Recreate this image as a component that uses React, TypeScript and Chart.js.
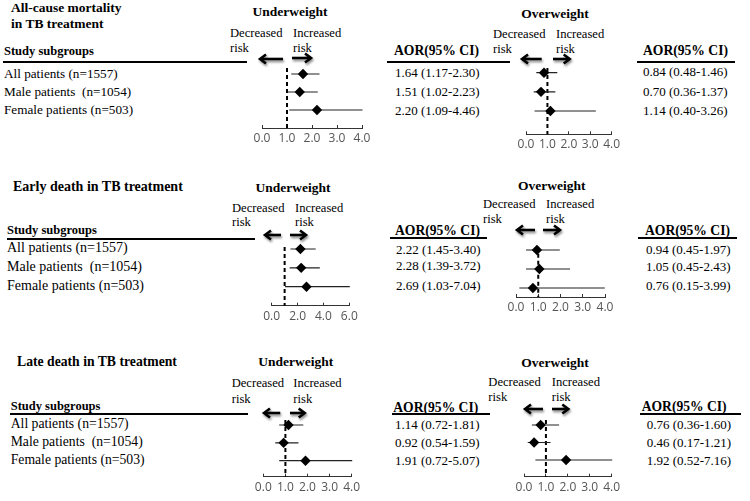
import React, { useEffect, useRef } from "react";
import { Chart, registerables } from "chart.js";

Chart.register(...registerables);

const SERIF = '"Liberation Serif", "Times New Roman", Times, serif';
const SANS = '"Open Sans", "DejaVu Sans", sans-serif';

// ---------------- data ----------------
const subgroups = ["All patients (n=1557)", "Male patients  (n=1054)", "Female patients (n=503)"];
const sectionTitles = [["All-cause mortality", "in TB treatment"], ["Early death in TB treatment"], ["Late death in TB treatment"]];
const groupTitles = ["Underweight", "Overweight"];
const riskWords = ["Decreased", "Increased", "risk"];
const columnHeader = "AOR(95% CI)";
const subgroupHeader = "Study subgroups";
const referenceAor = 1;

const ticksTo4 = [0, 1, 2, 3, 4];
const ticksTo6 = [0, 2, 4, 6];

const allCauseUnderAor = [1.64, 1.51, 2.2];
const allCauseUnderLow = [1.17, 1.02, 1.09];
const allCauseUnderHigh = [2.3, 2.23, 4.46];
const allCauseOverAor = [0.84, 0.7, 1.14];
const allCauseOverLow = [0.48, 0.36, 0.4];
const allCauseOverHigh = [1.46, 1.37, 3.26];

const earlyUnderAor = [2.22, 2.28, 2.69];
const earlyUnderLow = [1.45, 1.39, 1.03];
const earlyUnderHigh = [3.4, 3.72, 7.04];
const earlyOverAor = [0.94, 1.05, 0.76];
const earlyOverLow = [0.45, 0.45, 0.15];
const earlyOverHigh = [1.97, 2.43, 3.99];

const lateUnderAor = [1.14, 0.92, 1.91];
const lateUnderLow = [0.72, 0.54, 0.72];
const lateUnderHigh = [1.81, 1.59, 5.07];
const lateOverAor = [0.76, 0.46, 1.92];
const lateOverLow = [0.36, 0.17, 0.52];
const lateOverHigh = [1.6, 1.21, 7.16];

// ---------------- layout ----------------
type Geo = { x0: number; x1: number; axisY: number; dashTop: number; rowFirst: number; rowLast: number };
type Panel = {
  aor: number[]; low: number[]; high: number[]; ticks: number[]; geo: Geo;
  titleX: number; titleY: number; decX: number; incX: number; riskY: number[];
  arrowL: number[]; arrowR: number[];
  col: { x: number; headerX: number; headerY: number; line: number[]; rowY: number[] };
};
type Section = {
  titleX: number; titleY: number[]; titleSize: number;
  headerX: number; headerY: number; headerLine: number[];
  rowX: number; rowY: number[]; rowSize: number;
  panels: Panel[];
};

const SECTIONS: Section[] = [
  {
    titleX: 11, titleY: [9, 25], titleSize: 13.5,
    headerX: 4, headerY: 52, headerLine: [3, 247, 62],
    rowX: 4, rowY: [74, 92, 110], rowSize: 13.2,
    panels: [
      {
        aor: allCauseUnderAor, low: allCauseUnderLow, high: allCauseUnderHigh, ticks: ticksTo4,
        geo: { x0: 262, x1: 362, axisY: 128, dashTop: 68, rowFirst: 74, rowLast: 110 },
        titleX: 290, titleY: 13, decX: 230, incX: 293, riskY: [34, 49],
        arrowL: [258, 283, 59], arrowR: [292, 313, 58],
        col: { x: 395, headerX: 394, headerY: 52, line: [387, 510, 62], rowY: [73, 92, 111] },
      },
      {
        aor: allCauseOverAor, low: allCauseOverLow, high: allCauseOverHigh, ticks: ticksTo4,
        geo: { x0: 526, x1: 611.7, axisY: 134.3, dashTop: 68, rowFirst: 72.7, rowLast: 111 },
        titleX: 555, titleY: 15, decX: 493, incX: 556, riskY: [35, 50],
        arrowL: [520, 541.7, 59], arrowR: [553, 571.7, 59],
        col: { x: 643, headerX: 643, headerY: 52, line: [637, 735, 62], rowY: [72, 92, 111] },
      },
    ],
  },
  {
    titleX: 13, titleY: [188], titleSize: 14,
    headerX: 7, headerY: 231, headerLine: [7, 255, 239],
    rowX: 7, rowY: [249, 267.7, 286.7], rowSize: 14,
    panels: [
      {
        aor: earlyUnderAor, low: earlyUnderLow, high: earlyUnderHigh, ticks: ticksTo6,
        geo: { x0: 271.7, x1: 349.3, axisY: 305.7, dashTop: 247, rowFirst: 249, rowLast: 286.7 },
        titleX: 293, titleY: 189, decX: 232, incX: 295, riskY: [209, 223],
        arrowL: [263, 281, 235], arrowR: [290, 308, 235],
        col: { x: 396, headerX: 395, headerY: 231.7, line: [390, 486.7, 238.3], rowY: [250, 266.7, 286] },
      },
      {
        aor: earlyOverAor, low: earlyOverLow, high: earlyOverHigh, ticks: ticksTo4,
        geo: { x0: 516, x1: 605, axisY: 297, dashTop: 246.7, rowFirst: 250, rowLast: 288 },
        titleX: 551.7, titleY: 187, decX: 483, incX: 546, riskY: [205, 220],
        arrowL: [515, 535, 230], arrowR: [543, 562, 230],
        col: { x: 646, headerX: 645, headerY: 231.7, line: [638, 736.7, 238], rowY: [250, 267, 286] },
      },
    ],
  },
  {
    titleX: 17, titleY: [362.7], titleSize: 13.7,
    headerX: 10.7, headerY: 406.7, headerLine: [10, 248, 414],
    rowX: 10.7, rowY: [425, 442.7, 460.7], rowSize: 13.7,
    panels: [
      {
        aor: lateUnderAor, low: lateUnderLow, high: lateUnderHigh, ticks: ticksTo4,
        geo: { x0: 263.3, x1: 351.7, axisY: 476.7, dashTop: 420, rowFirst: 425, rowLast: 460.7 },
        titleX: 295.8, titleY: 363, decX: 231.7, incX: 293.3, riskY: [384.3, 400],
        arrowL: [261.7, 280, 412.7], arrowR: [290, 306.7, 412.7],
        col: { x: 395, headerX: 393.3, headerY: 408.3, line: [391.7, 490, 414], rowY: [425, 443.3, 461.7] },
      },
      {
        aor: lateOverAor, low: lateOverLow, high: lateOverHigh, ticks: ticksTo4,
        geo: { x0: 524, x1: 611.7, axisY: 476.7, dashTop: 420, rowFirst: 425, rowLast: 460 },
        titleX: 555, titleY: 363.3, decX: 488.3, incX: 551.7, riskY: [383.3, 398.3],
        arrowL: [523.3, 543.3, 409.3], arrowR: [551.7, 570, 409.3],
        col: { x: 646.7, headerX: 641.7, headerY: 408, line: [640, 740.7, 414], rowY: [425, 443, 461] },
      },
    ],
  },
];

const fmt = (v: number) => v.toFixed(2);
const aorLabel = (a: number, l: number, h: number) => `${fmt(a)} (${fmt(l)}-${fmt(h)})`;

// ---------------- components ----------------
function Txt({ x, y, text, size, bold, center }: { x: number; y: number; text: string; size: number; bold?: boolean; center?: boolean }) {
  return (
    <div
      style={{
        position: "absolute",
        left: x,
        top: y - size * 0.64,
        fontFamily: SERIF,
        fontSize: size,
        lineHeight: `${size * 1.2}px`,
        fontWeight: bold ? 700 : 400,
        whiteSpace: "pre",
        color: "#000",
        transform: center ? "translateX(-50%)" : undefined,
      }}
    >
      {text}
    </div>
  );
}

function HLine({ x1, x2, y }: { x1: number; x2: number; y: number }) {
  return <div style={{ position: "absolute", left: x1, top: y - 1, width: x2 - x1, height: 2, background: "#000" }} />;
}

function Arrow({ x1, x2, y, dir }: { x1: number; x2: number; y: number; dir: "left" | "right" }) {
  const w = x2 - x1;
  const m = 5;
  const cy = 9;
  const tip = dir === "left" ? m + 2 : m + w - 2;
  const tail = dir === "left" ? m + w : m;
  const hd = dir === "left" ? 1 : -1;
  return (
    <svg
      width={w + 2 * m}
      height={18}
      style={{ position: "absolute", left: x1 - m, top: y - cy, overflow: "visible", filter: "drop-shadow(1px 2px 1.3px rgba(0,0,0,0.45))" }}
    >
      <line x1={tail} y1={cy} x2={tip + hd * 1.5} y2={cy} stroke="#000" strokeWidth={2.6} />
      <polyline
        points={`${tip + hd * 6},${cy - 4.5} ${tip},${cy} ${tip + hd * 6},${cy + 4.5}`}
        fill="none"
        stroke="#000"
        strokeWidth={2.6}
        strokeLinejoin="miter"
      />
    </svg>
  );
}

function Forest({ panel }: { panel: Panel }) {
  const ref = useRef<HTMLCanvasElement>(null);
  const { geo, aor, low, high, ticks } = panel;
  const PAD_X = 16, PAD_T = 8, AXIS_H = 24, PAD_B = 2;
  const left = Math.floor(geo.x0 - PAD_X);
  const width = Math.ceil(geo.x1 + PAD_X) - left;
  const top = Math.floor(geo.dashTop - PAD_T);
  const height = Math.ceil(geo.axisY + AXIS_H + PAD_B) - top;
  const padL = geo.x0 - left;
  const padR = width - (geo.x1 - left);
  const padT = geo.dashTop - top;
  const padB = height - (geo.axisY - top) - AXIS_H;

  useEffect(() => {
    if (!ref.current) return;
    const n = aor.length;
    const s = (geo.rowLast - geo.rowFirst) / (n - 1);
    const yMin = -(geo.rowFirst - geo.dashTop) / s;
    const yMax = n - 1 + (geo.axisY - geo.rowLast) / s;
    const datasets: any[] = [
      {
        data: aor.map((v, i) => ({ x: v, y: i })),
        pointStyle: "rectRot",
        pointRadius: 5.2,
        pointBackgroundColor: "#000",
        pointBorderColor: "#000",
        pointBorderWidth: 0,
        showLine: false,
        clip: false,
      },
      ...aor.map((_, i) => ({
        data: [{ x: low[i], y: i }, { x: high[i], y: i }],
        showLine: true,
        borderColor: "#222",
        borderWidth: 1.2,
        pointRadius: 0,
        clip: { left: 1, right: 0.5, top: false, bottom: false },
      })),
      {
        data: [{ x: referenceAor, y: yMin }, { x: referenceAor, y: yMax }],
        showLine: true,
        borderColor: "#000",
        borderWidth: 2,
        borderDash: [4, 3],
        pointRadius: 0,
        clip: false,
      },
    ];
    const chart = new Chart(ref.current, {
      type: "scatter",
      data: { datasets },
      options: {
        responsive: false,
        animation: false,
        events: [],
        layout: { padding: { left: padL, right: padR, top: padT, bottom: padB } },
        plugins: { legend: { display: false }, tooltip: { enabled: false } },
        scales: {
          x: {
            type: "linear",
            min: ticks[0],
            max: ticks[ticks.length - 1],
            afterBuildTicks: (sc: any) => {
              sc.ticks = ticks.map((v) => ({ value: v }));
            },
            ticks: {
              callback: (v: any) => Number(v).toFixed(1),
              font: { family: SANS, size: 12 },
              color: "#555",
              padding: 6.3,
              maxRotation: 0,
              minRotation: 0,
              autoSkip: false,
            },
            grid: { display: true, drawOnChartArea: false, drawTicks: true, tickLength: -3, color: "#333", lineWidth: 1 },
            border: { display: true, color: "#333", width: 1 },
          },
          y: { type: "linear", reverse: true, min: yMin, max: yMax, display: false },
        },
      } as any,
    });
    return () => chart.destroy();
  }, [panel]);

  return <canvas ref={ref} width={width} height={height} style={{ position: "absolute", left, top, width, height }} />;
}

export default function App() {
  return (
    <div style={{ position: "fixed", left: 0, top: 0, width: 750, height: 501, overflow: "hidden", background: "#fff" }}>
      {SECTIONS.map((sec, si) => (
        <React.Fragment key={si}>
          {sectionTitles[si].map((t, k) => (
            <Txt key={"t" + k} x={sec.titleX} y={sec.titleY[k]} text={t} size={sec.titleSize} bold />
          ))}
          <Txt x={sec.headerX} y={sec.headerY} text={subgroupHeader} size={12.5} bold />
          <HLine x1={sec.headerLine[0]} x2={sec.headerLine[1]} y={sec.headerLine[2]} />
          {subgroups.map((g, k) => (
            <Txt key={"r" + k} x={sec.rowX} y={sec.rowY[k]} text={g} size={sec.rowSize} />
          ))}
          {sec.panels.map((p, pi) => (
            <React.Fragment key={"p" + pi}>
              <Txt x={p.titleX} y={p.titleY} text={groupTitles[pi]} size={13.5} bold center />
              <Txt x={p.decX} y={p.riskY[0]} text={riskWords[0]} size={12.6} />
              <Txt x={p.decX} y={p.riskY[1]} text={riskWords[2]} size={12.6} />
              <Txt x={p.incX} y={p.riskY[0]} text={riskWords[1]} size={12.6} />
              <Txt x={p.incX} y={p.riskY[1]} text={riskWords[2]} size={12.6} />
              <Arrow x1={p.arrowL[0]} x2={p.arrowL[1]} y={p.arrowL[2]} dir="left" />
              <Arrow x1={p.arrowR[0]} x2={p.arrowR[1]} y={p.arrowR[2]} dir="right" />
              <Forest panel={p} />
              <Txt x={p.col.headerX} y={p.col.headerY} text={columnHeader} size={13.6} bold />
              <HLine x1={p.col.line[0]} x2={p.col.line[1]} y={p.col.line[2]} />
              {p.aor.map((a, k) => (
                <Txt key={"v" + k} x={p.col.x} y={p.col.rowY[k]} text={aorLabel(a, p.low[k], p.high[k])} size={13} />
              ))}
            </React.Fragment>
          ))}
        </React.Fragment>
      ))}
    </div>
  );
}
